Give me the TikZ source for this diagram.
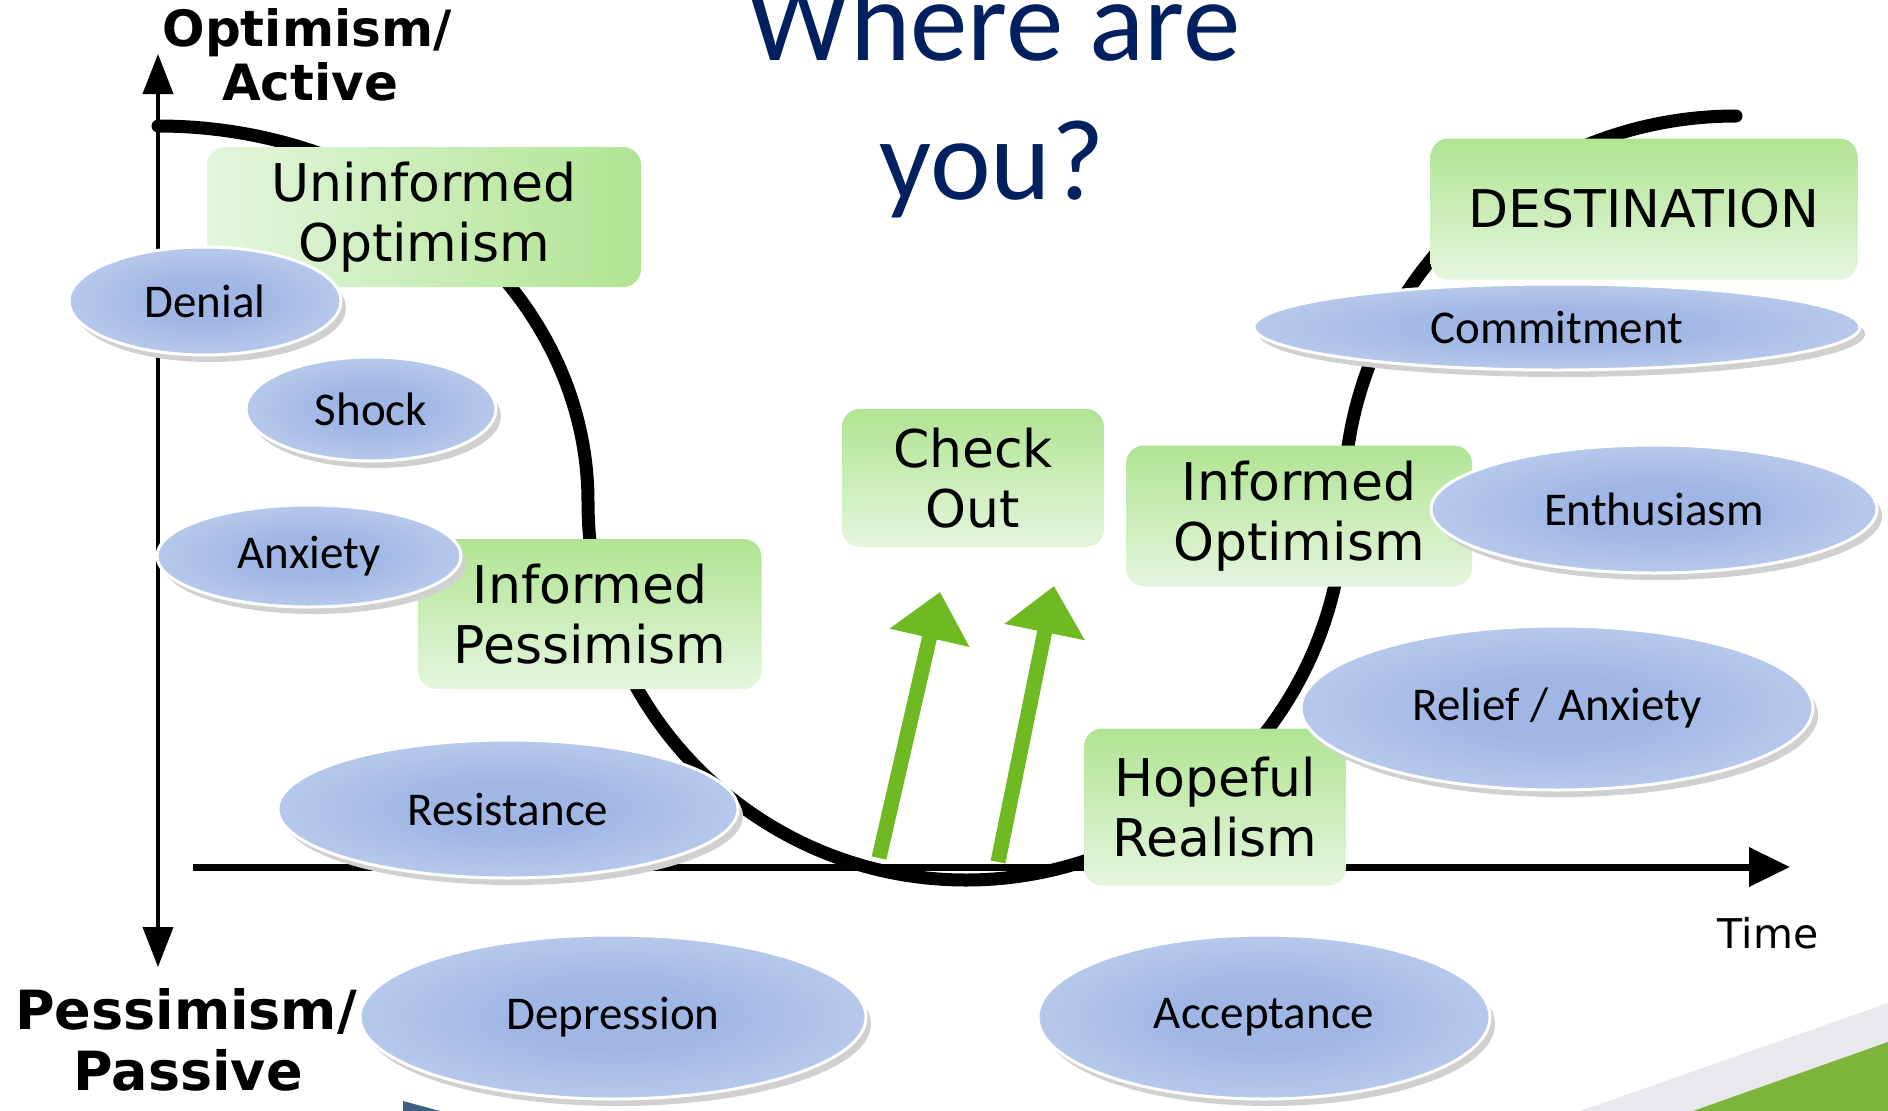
\documentclass[tikz,border=0pt]{standalone}
\usepackage{fontspec}
\setmainfont{DejaVu Sans}
\newfontfamily\calfont{Carlito}
\usetikzlibrary{arrows.meta,shapes.geometric,shadows}
\definecolor{titleblue}{RGB}{0,32,96}
\definecolor{boxdark}{RGB}{176,228,146}
\definecolor{boxlight}{RGB}{228,246,222}
\definecolor{ellin}{RGB}{160,183,229}
\definecolor{ellout}{RGB}{218,226,244}
\definecolor{shadowgray}{RGB}{208,208,208}
\definecolor{arrowgreen}{RGB}{111,186,34}
\definecolor{bandgrey}{RGB}{232,232,238}
\definecolor{bandgreen}{RGB}{124,181,58}
\definecolor{slate}{RGB}{62,95,127}
\pgfdeclareradialshading{ellshade}{\pgfpoint{0bp}{0bp}}{color(0bp)=(ellin); color(10bp)=(ellin); color(48bp)=(ellout); color(50bp)=(ellout)}
\begin{document}
\begin{tikzpicture}[x=1pt,y=-1pt,
  gbox/.style={rounded corners=18pt, inner sep=0pt, align=center,
    font=\fontsize{52}{60}\selectfont, text=black},
  vgrad/.style={top color=boxdark, bottom color=boxlight},
  ell/.style={ellipse, inner sep=0pt, draw=white, line width=3pt,
    shading=ellshade,
    drop shadow={shadow xshift=5pt, shadow yshift=-7pt, fill=shadowgray, opacity=1},
    font=\calfont\fontsize{47}{52}\selectfont, text=black},
  garrow/.style={line width=15pt, arrowgreen, -{Triangle[length=47pt,width=79pt]}},
  axislabel/.style={font=\bfseries\fontsize{50}{54}\selectfont, anchor=base, inner sep=0pt},
  titletext/.style={font=\calfont\fontsize{115}{140}\selectfont, text=titleblue, anchor=base, inner sep=0pt}
]
\useasboundingbox (0,0) rectangle (1888,1111);
\clip (0,0) rectangle (1888,1111);
\fill[white] (0,0) rectangle (1888,1111);

% background bands
\fill[bandgrey] (1580,1111) -- (1888,1003) -- (1888,1111) -- cycle;
\fill[bandgreen] (1693,1111) -- (1888,1042) -- (1888,1111) -- cycle;
\fill[slate] (403,1101) -- (440,1111) -- (403,1111) -- cycle;

% axes
\coordinate (ytop) at (158,54);
\coordinate (ybot) at (158,967);
\draw[line width=4pt, {Triangle[length=40pt,width=30pt]}-{Triangle[length=40pt,width=30pt]}] (ybot) -- (ytop);
\coordinate (xl) at (193,867);
\coordinate (xr) at (1790,867);
\draw[line width=7pt, -{Triangle[length=41pt,width=38pt]}] (xl) -- (xr);

% change curve
\coordinate (cstart) at (158,126);
\draw[line width=13pt, line cap=round] (cstart)
  arc[start angle=-90, end angle=0, x radius=430, y radius=376]
  arc[start angle=180, end angle=0, radius=378]
  arc[start angle=180, end angle=270, x radius=392, y radius=386];

% green arrows
\coordinate (a1s) at (879,858);
\coordinate (a1t) at (940,592);
\coordinate (a2s) at (998,862);
\coordinate (a2t) at (1054,586);
\draw[garrow] (a1s) -- (a1t);
\draw[garrow] (a2s) -- (a2t);

% green boxes
\node[gbox, left color=boxlight, right color=boxdark, minimum width=434pt, minimum height=140pt] (uo) at (424,217) {Uninformed\\Optimism};
\node[gbox, vgrad, minimum width=343pt, minimum height=150pt] (ip) at (590,614) {Informed\\Pessimism};
\node[gbox, vgrad, minimum width=262pt, minimum height=138pt] (co) at (973,478) {Check\\Out};
\node[gbox, vgrad, minimum width=346pt, minimum height=141pt] (io) at (1299,516) {Informed\\Optimism};
\node[gbox, vgrad, minimum width=262pt, minimum height=157pt] (hr) at (1215,807) {Hopeful\\Realism};
\node[gbox, vgrad, minimum width=427pt, minimum height=141pt] (dest) at (1644,209) {DESTINATION};

% ellipses
\node[ell, minimum width=272pt, minimum height=108pt] (denial) at (205,301) {Denial};
\node[ell, minimum width=250pt, minimum height=104pt] (shock) at (371,409) {Shock};
\node[ell, minimum width=304pt, minimum height=102pt] (anxiety) at (309,556) {Anxiety};
\node[ell, minimum width=460pt, minimum height=138pt] (resist) at (508,809) {Resistance};
\node[ell, minimum width=506pt, minimum height=164pt] (depress) at (613,1017) {Depression};
\node[ell, minimum width=452pt, minimum height=164pt] (accept) at (1264,1017) {Acceptance};
\node[ell, minimum width=512pt, minimum height=164pt] (relief) at (1557,708) {Relief / Anxiety};
\node[ell, minimum width=446pt, minimum height=128pt] (enthus) at (1654,509) {Enthusiasm};
\node[ell, minimum width=606pt, minimum height=86pt] (commit) at (1557,327) {Commitment};

% axis labels
\node[axislabel] (opt1) at (307,46) {Optimism/};
\node[axislabel] (opt2) at (310,100) {Active};
\node[axislabel, font=\bfseries\fontsize{54}{60}\selectfont] (pes1) at (186,1029) {Pessimism/};
\node[axislabel, font=\bfseries\fontsize{54}{60}\selectfont] (pes2) at (188,1090) {Passive};
\node[anchor=base, inner sep=0pt, font=\fontsize{41}{48}\selectfont] (time) at (1768,948) {Time};

% title
\node[titletext] (title1) at (994,60) {Where are};
\node[titletext] (title2) at (992,199) {you?};
\end{tikzpicture}
\end{document}
